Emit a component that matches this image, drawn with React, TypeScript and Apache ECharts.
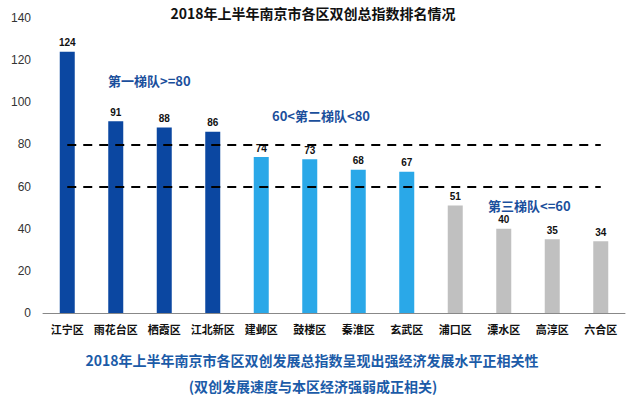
import React, { useEffect, useRef } from "react";
import * as echarts from "echarts";

const categories = ["江宁区", "雨花台区", "栖霞区", "江北新区", "建邺区", "鼓楼区", "秦淮区", "玄武区", "浦口区", "溧水区", "高淳区", "六合区"];
const values = [124, 91, 88, 86, 74, 73, 68, 67, 51, 40, 35, 34];
const tiers = [1, 1, 1, 1, 2, 2, 2, 2, 3, 3, 3, 3];
const tierColors: Record<number, string> = { 1: "#0B47A1", 2: "#2AA8E8", 3: "#C0C0C0" };
const thresholds = [80, 60];
const title = "2018年上半年南京市各区双创总指数排名情况";
const subtitle1 = "2018年上半年南京市各区双创发展总指数呈现出强经济发展水平正相关性";
const subtitle2 = "(双创发展速度与本区经济强弱成正相关)";
const tierNotes = [
  { text: "第一梯队>=80", x: 108, y: 80 },
  { text: "60<第二梯队<80", x: 272, y: 115 },
  { text: "第三梯队<=60", x: 488, y: 205 },
];

const CJK = "'Noto Sans CJK SC', 'Liberation Sans', sans-serif";

export default function App() {
  const ref = useRef<HTMLDivElement>(null);
  useEffect(() => {
    if (!ref.current) return;
    const chart = echarts.init(ref.current, undefined, { renderer: "svg" });
    chart.setOption({
      animation: false,
      backgroundColor: "#fff",
      grid: { left: 43, right: 15, top: 18, bottom: 87, containLabel: false },
      xAxis: {
        type: "category",
        data: categories,
        axisLine: { lineStyle: { color: "#888", width: 1 } },
        axisTick: { show: false },
        axisLabel: { interval: 0, color: "#111", fontSize: 11, fontWeight: "bold", fontFamily: CJK, margin: 10 },
      },
      yAxis: {
        type: "value",
        min: 0,
        max: 140,
        interval: 20,
        splitLine: { show: false },
        axisLine: { show: false },
        axisTick: { show: false },
        axisLabel: { color: "#333", fontSize: 12, fontFamily: "'Liberation Sans', Arial, sans-serif", margin: 12 },
      },
      series: [
        {
          type: "bar",
          barWidth: 15,
          data: values.map((v, i) => ({ value: v, itemStyle: { color: tierColors[tiers[i]] } })),
          label: {
            show: true,
            position: "top",
            distance: 4,
            color: "#111",
            fontSize: 10,
            fontWeight: "bold",
            fontFamily: "'Liberation Sans', Arial, sans-serif",
          },
          markLine: {
            silent: true,
            symbol: "none",
            label: { show: false },
            lineStyle: { color: "#000", width: 2, type: [9, 7] },
            data: thresholds.map((t) => [
              { coord: [0, t] },
              { coord: [categories.length - 1, t] },
            ]),
          },
        },
      ],
      graphic: [
        {
          type: "text",
          x: 313,
          y: 13,
          style: { text: title, fontSize: 14, fontWeight: "bold", fill: "#111", fontFamily: CJK, align: "center", verticalAlign: "middle" },
        },
        {
          type: "text",
          x: 312,
          y: 360,
          style: { text: subtitle1, fontSize: 14, fontWeight: "bold", fill: "#1B5BA8", fontFamily: CJK, align: "center", verticalAlign: "middle" },
        },
        {
          type: "text",
          x: 313,
          y: 386,
          style: { text: subtitle2, fontSize: 14, fontWeight: "bold", fill: "#1B5BA8", fontFamily: CJK, align: "center", verticalAlign: "middle" },
        },
        ...tierNotes.map((n) => ({
          type: "text",
          x: n.x,
          y: n.y,
          style: { text: n.text, fontSize: 13, fontWeight: "bold", fill: "#1B4F9C", fontFamily: CJK, align: "left", verticalAlign: "middle" },
        })),
      ],
    });
    return () => chart.dispose();
  }, []);
  return <div ref={ref} style={{ width: 640, height: 400, position: "absolute", left: 0, top: 0 }} />;
}
